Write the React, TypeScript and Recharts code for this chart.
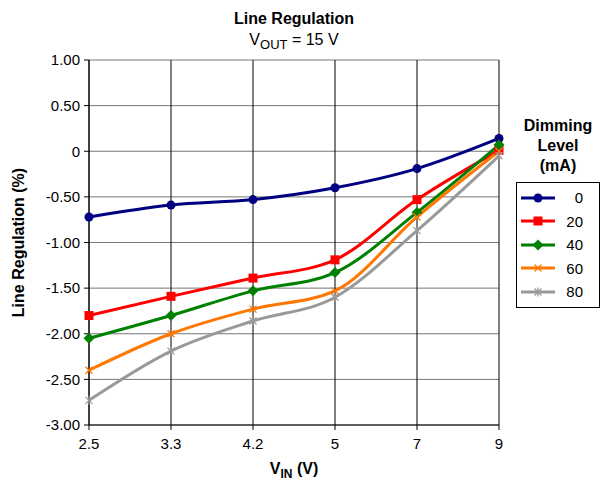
import { CartesianGrid, Legend, Line, LineChart, XAxis, YAxis } from "recharts";

const vin = ["2.5", "3.3", "4.2", "5", "7", "9"];
const level0 = [-0.72, -0.59, -0.53, -0.4, -0.19, 0.14];
const level20 = [-1.8, -1.59, -1.39, -1.19, -0.53, 0.01];
const level40 = [-2.05, -1.8, -1.53, -1.33, -0.67, 0.07];
const level60 = [-2.4, -2.0, -1.73, -1.53, -0.72, 0.0];
const level80 = [-2.73, -2.19, -1.86, -1.6, -0.87, -0.05];
const yTicks = [-3, -2.5, -2, -1.5, -1, -0.5, 0, 0.5, 1];

const series = [
  { key: "l0", name: "0", values: level0, color: "#000080", shape: "circle" },
  { key: "l20", name: "20", values: level20, color: "#FF0000", shape: "square" },
  { key: "l40", name: "40", values: level40, color: "#008000", shape: "diamond" },
  { key: "l60", name: "60", values: level60, color: "#FF7700", shape: "x" },
  { key: "l80", name: "80", values: level80, color: "#999999", shape: "star" },
];

const data = vin.map((v, i) => {
  const row: Record<string, string | number> = { vin: v };
  series.forEach((s) => (row[s.key] = s.values[i]));
  return row;
});

const font = "'Liberation Sans', Arial, sans-serif";

function Marker({ cx, cy, shape, color }: { cx: number; cy: number; shape: string; color: string }) {
  if (cx == null || cy == null) return null;
  if (shape === "circle") return <circle cx={cx} cy={cy} r={4.5} fill={color} />;
  if (shape === "square") return <rect x={cx - 4.5} y={cy - 4.5} width={9} height={9} fill={color} />;
  if (shape === "diamond")
    return <path d={`M${cx},${cy - 5.5}L${cx + 5.5},${cy}L${cx},${cy + 5.5}L${cx - 5.5},${cy}Z`} fill={color} />;
  if (shape === "x")
    return (
      <path d={`M${cx - 3.5},${cy - 3.5}L${cx + 3.5},${cy + 3.5}M${cx - 3.5},${cy + 3.5}L${cx + 3.5},${cy - 3.5}`} stroke={color} strokeWidth={1.3} />
    );
  return (
    <path
      d={`M${cx - 3.5},${cy - 3.5}L${cx + 3.5},${cy + 3.5}M${cx - 3.5},${cy + 3.5}L${cx + 3.5},${cy - 3.5}M${cx},${cy - 4.5}L${cx},${cy + 4.5}`}
      stroke={color}
      strokeWidth={1.3}
    />
  );
}

function LegendBlock() {
  return (
    <div style={{ fontFamily: font, width: 84 }}>
      <div style={{ textAlign: "center", fontWeight: "bold", fontSize: 16, lineHeight: "20px", marginBottom: 6 }}>
        Dimming
        <br />
        Level
        <br />
        (mA)
      </div>
      <div style={{ border: "1px solid #000", padding: "3px 0", background: "#fff" }}>
        {series.map((s) => (
          <div key={s.key} style={{ display: "flex", alignItems: "center", height: 23.5 }}>
            <svg width={40} height={14} style={{ marginLeft: 2 }}>
              <line x1={2} y1={7} x2={36} y2={7} stroke={s.color} strokeWidth={3} />
              <Marker cx={19} cy={7} shape={s.shape} color={s.color} />
            </svg>
            <span style={{ width: 24, textAlign: "right", fontSize: 15 }}>{s.name}</span>
          </div>
        ))}
      </div>
    </div>
  );
}

export default function App() {
  return (
    <div style={{ position: "absolute", left: 0, top: 0, width: 601, height: 483, background: "#fff" }}>
      <div
        style={{
          position: "absolute",
          left: 89,
          width: 410,
          top: 8,
          textAlign: "center",
          fontFamily: font,
          fontSize: 16,
          lineHeight: "21px",
          zIndex: 2,
        }}
      >
        <div style={{ fontWeight: "bold" }}>Line Regulation</div>
        <div>
          V<sub style={{ fontSize: 13, verticalAlign: "-4px" }}>OUT</sub> = 15 V
        </div>
      </div>
      <LineChart width={601} height={483} data={data} margin={{ top: 60, right: 102, bottom: 0, left: 0 }}>
        <CartesianGrid vertical={false} stroke="#777" strokeWidth={1} />
        <CartesianGrid horizontal={false} stroke="#000" strokeWidth={1} />
        <XAxis
          dataKey="vin"
          scale="point"
          height={58}
          stroke="#000"
          tickSize={5}
          tickMargin={8}
          tick={{ fontSize: 15, fill: "#000", fontFamily: font }}
          label={{
            content: ({ viewBox }: any) => (
              <text x={viewBox.x + viewBox.width / 2} y={viewBox.y + 49} textAnchor="middle" fontFamily={font} fontSize={16} fontWeight="bold" fill="#000">
                V<tspan fontSize={12} dy={4}>IN</tspan>
                <tspan dy={-4}> (V)</tspan>
              </text>
            ),
          }}
        />
        <YAxis
          width={89}
          domain={[-3, 1]}
          ticks={yTicks}
          type="number"
          stroke="#000"
          tickSize={5}
          tickMargin={4}
          tickFormatter={(v: number) => (v === 0 ? "0" : v.toFixed(2))}
          tick={{ fontSize: 15, fill: "#000", fontFamily: font }}
          label={{
            content: ({ viewBox }: any) => {
              const x = viewBox.x + 18;
              const y = viewBox.y + viewBox.height / 2;
              return (
                <text x={x} y={y} transform={`rotate(-90, ${x}, ${y})`} textAnchor="middle" dominantBaseline="central" fontFamily={font} fontSize={16} fontWeight="bold" fill="#000">
                  Line Regulation (%)
                </text>
              );
            },
          }}
        />
        {series.map((s) => (
          <Line
            key={s.key}
            dataKey={s.key}
            name={s.name}
            type="monotone"
            stroke={s.color}
            strokeWidth={3}
            isAnimationActive={false}
            dot={(p: any) => <Marker key={`${s.key}-${p.index}`} cx={p.cx} cy={p.cy} shape={s.shape} color={s.color} />}
            activeDot={false}
          />
        ))}
        <Legend
          layout="vertical"
          align="center"
          verticalAlign="middle"
          wrapperStyle={{ left: 516, top: 116, width: 84 }}
          content={() => <LegendBlock />}
        />
      </LineChart>
    </div>
  );
}
